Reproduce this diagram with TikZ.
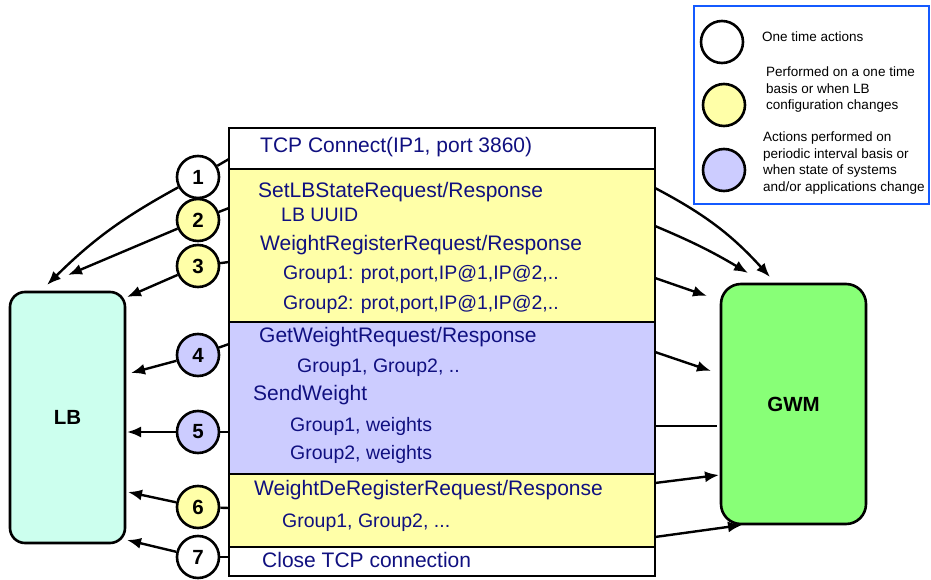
\documentclass[tikz,border=0pt]{standalone}
\usepackage{fontspec}
\setmainfont{Liberation Sans}
\usetikzlibrary{arrows.meta}

\definecolor{msgblue}{RGB}{16,16,128}
\definecolor{cfgyellow}{RGB}{255,255,168}
\definecolor{perblue}{RGB}{204,204,255}
\definecolor{lbcyan}{RGB}{204,255,238}
\definecolor{gwmgreen}{RGB}{136,255,119}
\definecolor{legendblue}{RGB}{20,90,255}

\begin{document}
\begin{tikzpicture}[x=1pt, y=-1pt, line width=2.4pt,
  row/.style={draw, minimum width=426pt, inner sep=0pt},
  msg/.style={text=msgblue, anchor=west, inner sep=0pt, text height=15pt,
    text depth=0pt, font=\fontsize{21}{24}\selectfont},
  submsg/.style={msg, text height=14pt, font=\fontsize{19.5}{22}\selectfont},
  stepnum/.style={circle, draw, line width=2.6pt, minimum size=42pt,
    inner sep=0pt, font=\bfseries\fontsize{20.5}{24}\selectfont},
  peer/.style={draw, line width=2.6pt, inner sep=0pt,
    font=\bfseries\fontsize{20.5}{24}\selectfont},
  arr/.style={-{Latex[length=14pt,width=11pt]}},
  legtext/.style={anchor=west, align=left, inner sep=0pt,
    font=\fontsize{13.5}{16.5}\selectfont}]
  \useasboundingbox (0,0) rectangle (931,580);

  % message exchange
  \node[row, fill=white, minimum height=41pt] (tcpopen) at (442,148.5) {};
  \node[row, fill=cfgyellow, minimum height=153pt] (config) at (442,245.5) {};
  \node[row, fill=perblue, minimum height=152pt] (periodic) at (442,398) {};
  \node[row, fill=cfgyellow, minimum height=73pt] (dereg) at (442,510.5) {};
  \node[row, fill=white, minimum height=29pt] (tcpclose) at (442,561.5) {};

  \node[msg] (tcpmsg) at (259,145) {TCP Connect(IP1, port 3860)};
  \node[msg] (setlb) at (257,190) {SetLBStateRequest/Response};
  \node[submsg] (uuid) at (280,215) {LB UUID};
  \node[msg] (wreg) at (259,243) {WeightRegisterRequest/Response};
  \node[submsg] (wreggrp1) at (282,272) {Group1: prot,port,IP@1,IP@2,..};
  \node[submsg] (wreggrp2) at (282,302) {Group2: prot,port,IP@1,IP@2,..};
  \node[msg] (getw) at (258,335) {GetWeightRequest/Response};
  \node[submsg] (getwgrp) at (296,365) {Group1, Group2, ..};
  \node[msg] (sendw) at (252,393) {SendWeight};
  \node[submsg] (sendwgrp1) at (289,424) {Group1, weights};
  \node[submsg] (sendwgrp2) at (289,452) {Group2, weights};
  \node[msg] (deregmsg) at (253,488) {WeightDeRegisterRequest/Response};
  \node[submsg] (dereggrp) at (281,520) {Group1, Group2, ...};
  \node[msg] (closemsg) at (261,560) {Close TCP connection};

  % peers
  \node[peer, fill=lbcyan, rounded corners=15pt, minimum width=115pt,
    minimum height=251pt] (lb) at (67.5,417.5) {LB};
  \node[peer, fill=gwmgreen, rounded corners=20pt, minimum width=145pt,
    minimum height=240pt] (gwm) at (793.5,404) {GWM};

  % steps
  \node[stepnum, fill=white] (s1) at (198,177) {1};
  \node[stepnum, fill=cfgyellow] (s2) at (198,220) {2};
  \node[stepnum, fill=cfgyellow] (s3) at (198,266) {3};
  \node[stepnum, fill=perblue] (s4) at (198,355) {4};
  \node[stepnum, fill=perblue] (s5) at (198,432) {5};
  \node[stepnum, fill=cfgyellow] (s6) at (198,507) {6};
  \node[stepnum, fill=white] (s7) at (198,557) {7};

  \coordinate (e1) at (229,159);
  \coordinate (e2) at (229,208);
  \coordinate (e3) at (229,262);
  \coordinate (e4) at (229,344);
  \coordinate (e5) at (229,432);
  \coordinate (e6) at (229,508);
  \coordinate (e7) at (229,557);
  \coordinate (l1) at (47,285);
  \coordinate (l2) at (68,275);
  \coordinate (l3) at (127,297);
  \coordinate (l4) at (131,373);
  \coordinate (l5) at (127,432);
  \coordinate (l6) at (128,492);
  \coordinate (l7) at (127,540);

  \draw (s1) -- (e1);
  \draw (s2) -- (e2);
  \draw (s3) -- (e3);
  \draw (s4) -- (e4);
  \draw (s5) -- (e5);
  \draw (s6) -- (e6);
  \draw (s7) -- (e7);
  \draw[arr] (s1) to[bend right=8] (l1);
  \draw[arr] (s2) -- (l2);
  \draw[arr] (s3) -- (l3);
  \draw[arr] (s4) -- (l4);
  \draw[arr] (s5) -- (l5);
  \draw[arr] (s6) -- (l6);
  \draw[arr] (s7) -- (l7);

  % towards GWM
  \coordinate (r1) at (655,188);
  \coordinate (r2) at (655,226);
  \coordinate (r3) at (655,278);
  \coordinate (r4) at (655,352);
  \coordinate (r5) at (655,426);
  \coordinate (r6) at (655,483);
  \coordinate (r7) at (655,537);
  \coordinate (g1) at (770,277);
  \coordinate (g2) at (748,273);
  \coordinate (g3) at (707,296);
  \coordinate (g4) at (711,371);
  \coordinate (g5) at (717,426);
  \coordinate (g6) at (719,475);
  \coordinate (g7) at (742,525);

  \draw[arr] (r1) to[bend left=10] (g1);
  \draw[arr] (r2) to[bend left=4] (g2);
  \draw[arr] (r3) -- (g3);
  \draw[arr] (r4) -- (g4);
  \draw (r5) -- (g5);
  \draw[arr] (r6) -- (g6);
  \draw[arr] (r7) -- (g7);

  % legend
  \node[draw=legendblue, line width=2.5pt, minimum width=235pt,
    minimum height=198pt, inner sep=0pt] (legend) at (811.5,105) {};
  \node[stepnum, fill=white] (keyonce) at (722,42) {};
  \node[stepnum, fill=cfgyellow] (keyconfig) at (724,105) {};
  \node[stepnum, fill=perblue] (keyperiodic) at (724,170) {};
  \node[legtext] (keyoncetext) at (761,37) {One time actions};
  \node[legtext] (keyconfigtext) at (765,90)
    {Performed on a one time\\basis or when LB\\configuration changes};
  \node[legtext] (keyperiodictext) at (762,163)
    {Actions performed on\\periodic interval basis or\\when state of systems\\and/or applications change};
\end{tikzpicture}
\end{document}
